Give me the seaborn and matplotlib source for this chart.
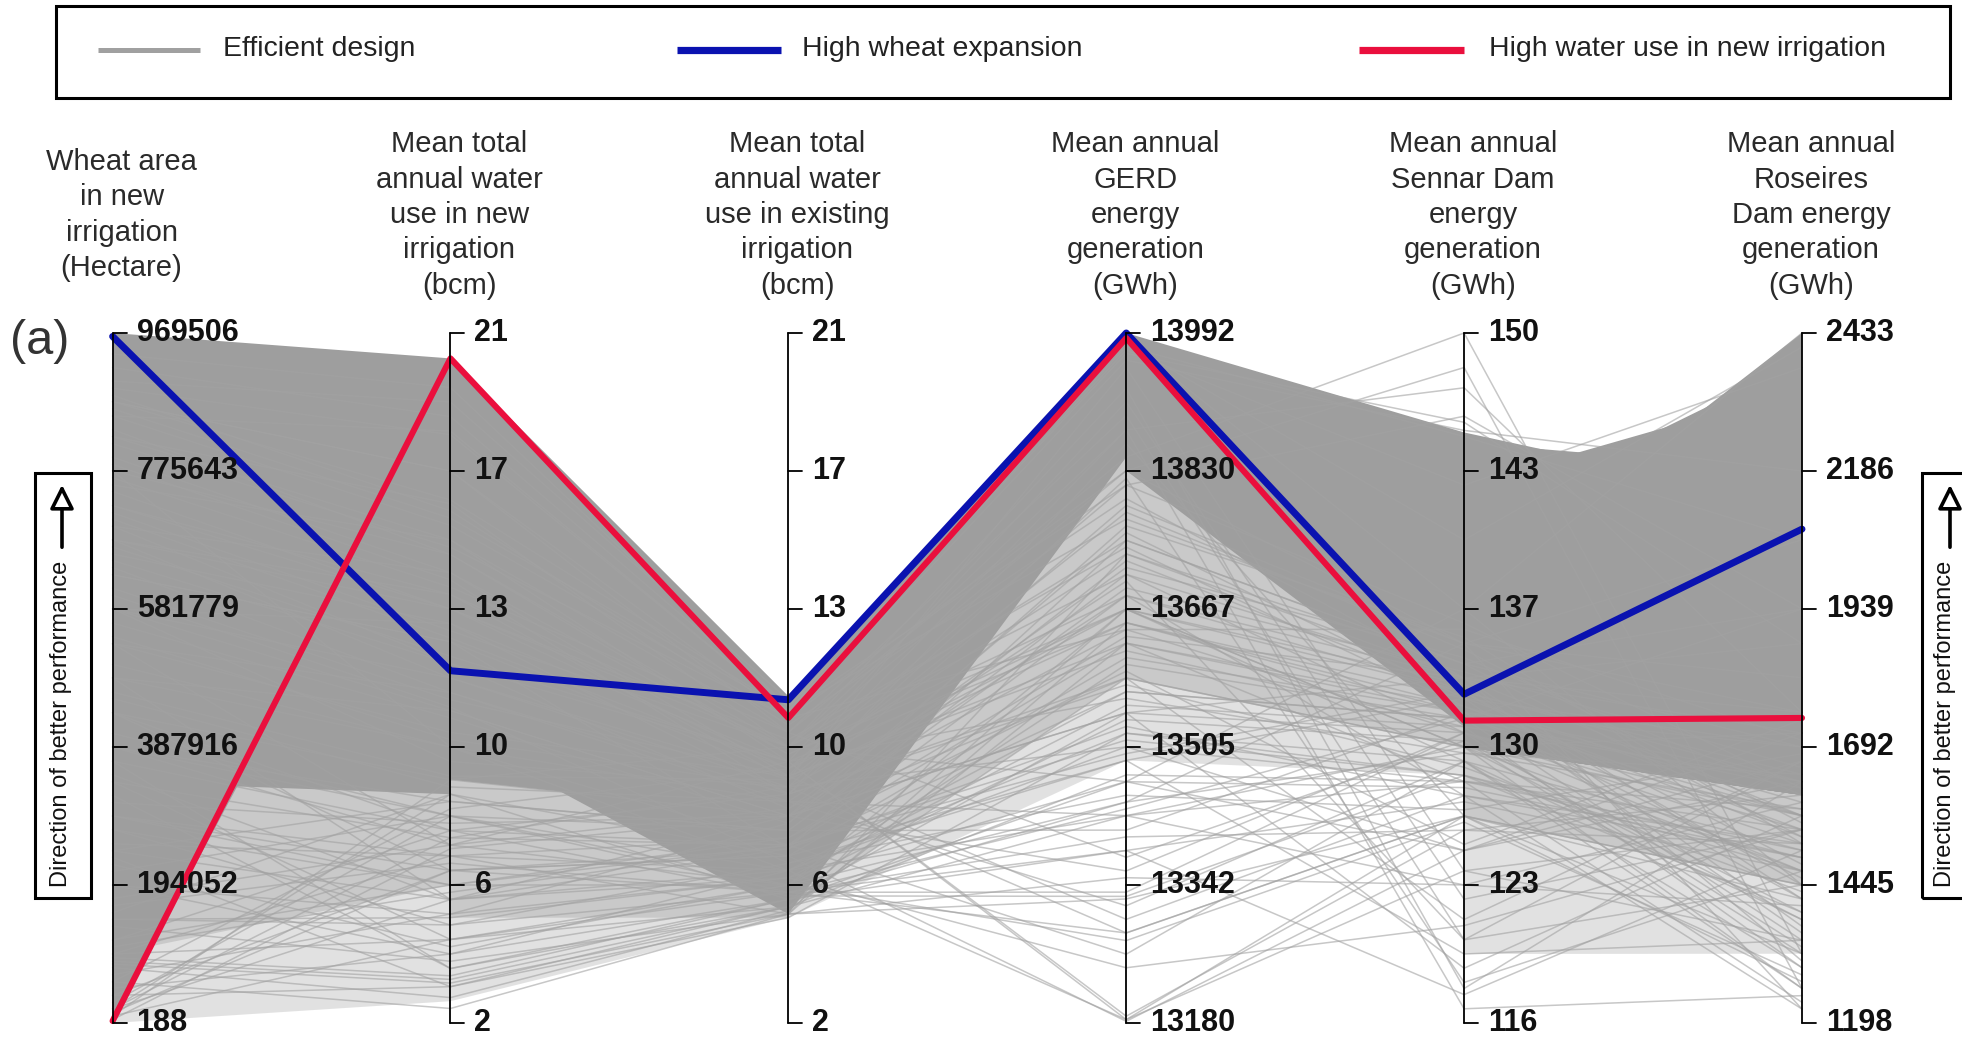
import numpy as np
import pandas as pd
import matplotlib
matplotlib.use("Agg")
import matplotlib.pyplot as plt
from matplotlib.patches import Rectangle, FancyArrowPatch
from matplotlib.lines import Line2D
import seaborn as sns

sns.set_style("white")
plt.rcParams["font.family"] = ["Liberation Sans", "DejaVu Sans"]

# ---------------------------------------------------------------- objectives
titles = [
    "Wheat area\nin new\nirrigation\n(Hectare)",
    "Mean total\nannual water\nuse in new\nirrigation\n(bcm)",
    "Mean total\nannual water\nuse in existing\nirrigation\n(bcm)",
    "Mean annual\nGERD\nenergy\ngeneration\n(GWh)",
    "Mean annual\nSennar Dam\nenergy\ngeneration\n(GWh)",
    "Mean annual\nRoseires\nDam energy\ngeneration\n(GWh)",
]
axis_min = [188, 2, 2, 13180, 116, 1198]
axis_max = [969506, 21, 21, 13992, 150, 2433]
tick_labels = [
    ["188", "194052", "387916", "581779", "775643", "969506"],
    ["2", "6", "10", "13", "17", "21"],
    ["2", "6", "10", "13", "17", "21"],
    ["13180", "13342", "13505", "13667", "13830", "13992"],
    ["116", "123", "130", "137", "143", "150"],
    ["1198", "1445", "1692", "1939", "2186", "2433"],
]

# ------------------------------------------------ individual efficient designs
wheat_area = [
    87000, 92000, 83000, 78000, 10000, 20000, 5000, 29000, 15000, 116000,
    146000, 194000, 242000, 291000, 339000, 436000, 388000, 485000, 533000, 20000,
    582000, 679000, 630000, 727000, 776000, 485000, 388000, 368000, 533000, 582000,
    640000, 698000, 824000, 873000, 756000, 795000, 679000, 582000, 436000, 388000,
    339000, 291000, 272000, 824000, 853000, 776000, 873000, 485000, 533000, 582000,
    630000, 679000, 727000, 659000, 698000, 291000, 242000, 146000, 892000, 921000,
    902000, 940000, 853000, 873000, 436000, 368000, 58000, 10000, 39000, 97000,
    49000, 117000, 175000, 213000, 272000, 320000, 68000, 20000, 155000, 233000,
    349000, 407000, 465000, 504000, 562000, 601000, 650000, 708000, 747000, 785000,
    834000, 882000, 97000, 39000, 136000, 194000, 252000, 310000, 456000, 543000,
    611000, 669000, 717000, 766000, 814000, 863000, 58000, 107000, 165000, 223000]
water_new = [
    3.2, 3.3, 3.1, 2.7, 4.3, 5.4, 6.8, 7.7, 6.2, 7.3,
    4.9, 3.9, 8.1, 5.8, 4.3, 6.2, 6.9, 5.4, 6.9, 8.3,
    10.6, 11.5, 12.5, 13.4, 9.6, 9.6, 7.7, 7.3, 10.0, 9.2,
    11.1, 11.9, 16.3, 17.2, 15.3, 14.4, 13.8, 13.0, 8.7, 8.1,
    7.1, 6.6, 5.8, 15.3, 15.7, 14.9, 16.4, 10.6, 11.1, 11.5,
    12.5, 13.4, 13.8, 13.0, 14.4, 6.2, 5.4, 4.7, 18.2, 18.7,
    19.1, 19.5, 18.3, 17.2, 7.3, 3.5, 2.4, 8.7, 3.0, 6.6,
    3.9, 5.8, 6.9, 7.7, 4.7, 3.5, 5.0, 7.1, 8.3, 3.0,
    5.4, 7.7, 8.8, 9.6, 10.4, 10.7, 11.9, 12.6, 13.4, 14.2,
    14.9, 16.1, 4.3, 6.2, 3.7, 5.0, 6.6, 7.5, 8.5, 9.8,
    10.9, 12.1, 12.8, 14.0, 15.1, 15.9, 7.9, 5.6, 6.4, 4.1]
water_existing = [
    5.2, 5.4, 5.0, 5.1, 5.8, 6.8, 7.7, 6.2, 5.6, 8.3,
    6.0, 5.4, 7.3, 6.9, 5.2, 6.6, 9.2, 7.7, 5.8, 5.4,
    7.7, 8.7, 6.8, 9.6, 6.2, 8.1, 5.6, 5.5, 8.8, 8.5,
    8.1, 9.2, 9.6, 10.0, 9.2, 8.8, 8.7, 8.3, 7.7, 7.3,
    6.9, 6.2, 5.8, 10.0, 10.4, 9.6, 10.6, 7.7, 8.3, 8.5,
    8.8, 9.0, 9.6, 9.2, 9.4, 6.6, 6.2, 5.6, 10.6, 10.7,
    10.9, 10.7, 10.6, 10.4, 6.9, 5.2, 5.0, 9.6, 4.9, 5.0,
    6.2, 7.1, 7.9, 5.8, 6.4, 5.4, 7.5, 8.5, 6.6, 5.2,
    6.0, 7.3, 8.7, 6.9, 7.5, 6.4, 7.9, 9.0, 9.8, 8.3,
    9.4, 10.2, 5.6, 6.8, 5.0, 6.0, 7.1, 7.7, 8.1, 8.5,
    8.8, 9.2, 9.6, 10.0, 10.4, 10.6, 9.0, 6.9, 5.6, 5.8]
gerd_energy = [
    13424, 13545, 13326, 13627, 13667, 13748, 13586, 13505, 13286, 13789,
    13464, 13383, 13708, 13627, 13667, 13182, 13184, 13545, 13602, 13464,
    13683, 13651, 13570, 13748, 13521, 13424, 13334, 13329, 13302, 13286,
    13318, 13188, 13927, 13895, 13911, 13878, 13951, 13862, 13359, 13407,
    13261, 13184, 13440, 13846, 13830, 13878, 13813, 13545, 13586, 13505,
    13627, 13667, 13708, 13651, 13683, 13489, 13424, 13383, 13968, 13976,
    13984, 13980, 13972, 13960, 13683, 13586, 13651, 13830, 13521, 13732,
    13570, 13635, 13716, 13537, 13489, 13440, 13765, 13667, 13610, 13472,
    13554, 13692, 13781, 13513, 13724, 13448, 13643, 13813, 13740, 13578,
    13667, 13797, 13399, 13529, 13351, 13245, 13594, 13757, 13700, 13821,
    13618, 13562, 13464, 13375, 13643, 13773, 13732, 13497, 13432, 13277]
sennar_energy = [
    127.9, 133.0, 126.2, 131.3, 132.3, 133.7, 129.6, 127.9, 126.2, 134.7,
    124.5, 126.9, 133.0, 131.6, 129.6, 124.5, 123.5, 130.3, 131.0, 136.4,
    133.0, 132.0, 131.0, 133.7, 128.9, 129.6, 130.3, 128.2, 127.2, 126.2,
    128.9, 125.5, 117.7, 120.1, 122.1, 116.7, 123.5, 126.2, 130.3, 131.3,
    128.9, 126.2, 134.7, 150.0, 148.3, 147.3, 145.9, 118.7, 121.1, 124.5,
    127.9, 128.9, 130.3, 131.3, 127.2, 119.4, 122.8, 117.4, 145.6, 144.9,
    136.4, 139.8, 142.5, 145.2, 132.3, 129.6, 131.6, 134.7, 128.2, 133.0,
    131.0, 133.0, 134.0, 129.9, 132.0, 129.3, 135.0, 132.7, 131.3, 127.9,
    130.6, 133.3, 134.4, 128.2, 132.3, 126.5, 130.3, 135.7, 131.6, 128.6,
    129.6, 133.0, 125.5, 127.2, 122.8, 120.8, 124.8, 132.0, 120.1, 118.0,
    130.6, 129.3, 127.6, 129.9, 135.4, 134.7, 133.7, 132.3, 131.0, 125.9]
roseires_energy = [
    1507, 1569, 1445, 1692, 1630, 1939, 1383, 1544, 1322, 2063,
    1667, 1470, 1754, 1593, 1260, 1630, 1544, 1519, 1346, 1445,
    1877, 1569, 1939, 1692, 1507, 1470, 1569, 1470, 1494, 1420,
    1297, 1519, 1630, 1445, 1544, 1247, 1346, 1272, 1544, 1630,
    1383, 1445, 1754, 1322, 1260, 1754, 1939, 1569, 1667, 1717,
    1235, 1260, 1470, 1420, 1519, 1346, 1593, 1507, 1877, 2063,
    2433, 2408, 2371, 2186, 1643, 1569, 1544, 1816, 1494, 1717,
    1569, 1420, 1606, 1322, 1692, 1643, 1519, 1371, 1457, 1581,
    1297, 1655, 1556, 1396, 1482, 1680, 1334, 1618, 1531, 1433,
    1717, 1309, 1606, 1223, 1408, 1544, 1741, 1359, 1667, 1470,
    1630, 1581, 1494, 1396, 1704, 1223, 1531, 1445, 1618, 1284]

# ------------------------------- ranges covered by the bulk of the designs
# each band joins objective `from` to objective `from + 1`
dense_from = [0, 0, 1, 1, 2, 3, 4, 4, 4, 4, 4]
dense_left = [(339000, 969506), (5000, 485000), (8.7, 20.3), (10.0, 18.2), (5.0, 11.0),
              (13830, 13992), (129.6, 145.1), (129.6, 144.6), (129.6, 142.5),
              (129.6, 137.1), (129.6, 140.5)]
dense_right = [(8.3, 20.3), (19.5, 20.3), (7.7, 11.0), (5.0, 8.1), (13846, 13992),
               (130.6, 145.1), (1606, 2124), (1606, 2186), (1606, 2334),
               (1606, 2433), (1606, 2384)]

# thinner clusters just below the bulk
mid_from = [0, 1, 2, 3, 4]
mid_left = [(97000, 388000), (4.9, 8.7), (5.2, 8.8), (13586, 13846), (126.2, 130.3)]
mid_right = [(5.8, 8.7), (4.9, 7.7), (13586, 13846), (129.6, 135.0), (1445, 1630)]

# scattered outlying designs
sparse_from = [0, 1, 2, 3, 4]
sparse_left = [(188, 388000), (2.6, 9.2), (4.9, 10.0), (13489, 13846), (119.4, 130.3)]
sparse_right = [(2.6, 8.8), (4.9, 8.3), (13489, 13870), (128.2, 137.1), (1322, 1692)]

# ---------------------------------------------------------- highlighted designs
high_wheat = [964700, 11.7, 10.9, 13992, 132.2, 2082]
high_water = [3000, 20.3, 10.4, 13986, 130.9, 1744]

GREY = "#9e9e9e"
BLUE = "#0a12b0"
RED = "#ea0f3d"


def level(j, v):
    return (v - axis_min[j]) / (axis_max[j] - axis_min[j])


wide = pd.DataFrame({"wheat": wheat_area, "new": water_new, "existing": water_existing,
                     "gerd": gerd_energy, "sennar": sennar_energy, "roseires": roseires_energy})
designs = (wide.reset_index().rename(columns={"index": "design"})
           .melt(id_vars="design", var_name="objective", value_name="value"))
order = list(wide.columns)
designs["axis"] = designs["objective"].map(order.index)
designs["level"] = [level(j, v) for j, v in zip(designs["axis"], designs["value"])]
designs = designs.sort_values(["design", "axis"])

highlight = pd.DataFrame(
    [{"scenario": name, "axis": j, "level": level(j, v)}
     for name, vals in [("High wheat expansion", high_wheat),
                        ("High water use in new irrigation", high_water)]
     for j, v in enumerate(vals)]
)

# ------------------------------------------------------------------- figure
W, H = 1962, 1039
fig = plt.figure(figsize=(W / 100, H / 100), dpi=100)
x0, x5, ytop, ybot = 112.6, 1802.0, 333.0, 1023.0
ax = fig.add_axes([x0 / W, (H - ybot) / H, (x5 - x0) / W, (ybot - ytop) / H])
px = 5.0 / (x5 - x0)
py = 1.0 / (ybot - ytop)


def band(j, left, right, alpha):
    l0, l1 = level(j, left[0]), level(j, left[1])
    r0, r1 = level(j + 1, right[0]), level(j + 1, right[1])
    ax.fill([j, j, j + 1, j + 1], [l0, l1, r1, r0], color=GREY, lw=0,
            alpha=alpha, clip_on=False, zorder=1)


for j, l, r in zip(sparse_from, sparse_left, sparse_right):
    band(j, l, r, 0.30)
for j, l, r in zip(mid_from, mid_left, mid_right):
    band(j, l, r, 0.35)

sns.lineplot(data=designs, x="axis", y="level", units="design", estimator=None,
             sort=False, color="#a2a2a2", linewidth=1.1, alpha=0.6, ax=ax,
             legend=False, zorder=2)

for j, l, r in zip(dense_from, dense_left, dense_right):
    band(j, l, r, 1.0)

sns.lineplot(data=highlight[highlight.scenario == "High wheat expansion"],
             x="axis", y="level", sort=False, color=BLUE, linewidth=5.0,
             ax=ax, legend=False, zorder=4)
sns.lineplot(data=highlight[highlight.scenario == "High water use in new irrigation"],
             x="axis", y="level", sort=False, color=RED, linewidth=4.4,
             ax=ax, legend=False, zorder=5)

for ln in ax.lines:
    ln.set_clip_on(False)

# vertical axes, ticks and labels
for j in range(6):
    ax.plot([j, j], [0, 1], color="black", lw=1.3, clip_on=False, zorder=6)
    ticks = np.linspace(axis_min[j], axis_max[j], 6)
    for t, lab in zip(ticks, tick_labels[j]):
        y = level(j, t)
        ax.plot([j, j + 14 * px], [y, y], color="black", lw=1.3, clip_on=False, zorder=6)
        ax.text(j + 24 * px, y, lab, ha="left", va="center", fontsize=22,
                fontweight="bold", color="#111111", zorder=7, clip_on=False)
    ax.text(j + 9 * px, 1 + (ytop - 215) * py, titles[j], ha="center", va="center",
            multialignment="center", fontsize=21, color="#2a2a2a", linespacing=1.33)

ax.set_xlim(0, 5)
ax.set_ylim(0, 1)
ax.axis("off")

# panel letter
fig.text(10 / W, 1 - 342 / H, "(a)", fontsize=35, color="#333333", ha="left", va="center")

# legend frame
fig.add_artist(Rectangle((56 / W, 1 - 98 / H), (1950 - 56) / W, 92 / H, transform=fig.transFigure,
                         fill=False, lw=2.2, ec="black"))
legend_items = [("Efficient design", "#a0a0a0", 3.6, 98, 200, 223),
                ("High wheat expansion", BLUE, 5.2, 677, 781, 802),
                ("High water use in new irrigation", RED, 5.2, 1359, 1464, 1489)]
for label, c, lw, xa, xb, xt in legend_items:
    fig.add_artist(Line2D([xa / W, xb / W], [1 - 50 / H, 1 - 50 / H], color=c, lw=lw,
                          transform=fig.transFigure, solid_capstyle="butt"))
    fig.text(xt / W, 1 - 49 / H, label, fontsize=20.5, color="#222222", ha="left", va="center")

# direction-of-performance boxes
for bx, bw, ax_x, tx_x in [(35, 56, 62, 61), (1922, 70, 1950, 1945)]:
    fig.add_artist(Rectangle((bx / W, 1 - 898 / H), bw / W, 425 / H, transform=fig.transFigure,
                             fill=False, lw=2.2, ec="black"))
    fig.add_artist(FancyArrowPatch((ax_x / W, 1 - 550 / H), (ax_x / W, 1 - 482 / H),
                                   transform=fig.transFigure,
                                   arrowstyle="-|>,head_length=0.6,head_width=0.3",
                                   mutation_scale=24, lw=2.6, fc="white", ec="black"))
    fig.text(tx_x / W, 1 - 724 / H, "Direction of better performance", rotation=90,
             fontsize=17, color="#111111", ha="center", va="center")

fig.savefig("out.png", dpi=100)
